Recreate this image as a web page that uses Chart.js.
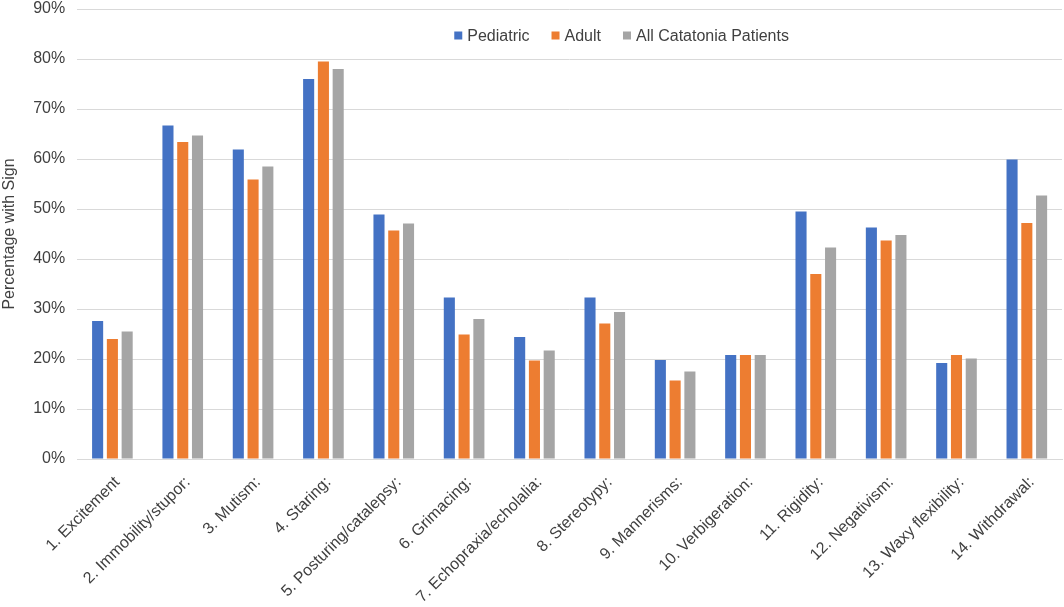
<!DOCTYPE html>
<html>
<head>
<meta charset="utf-8">
<script src="https://cdn.jsdelivr.net/npm/chart.js@4"></script>
<style>
  html, body { margin: 0; padding: 0; background: #fff; }
  #wrap { width: 1064px; height: 607px; position: relative; }
</style>
</head>
<body>
<div id="wrap"><canvas id="signChart"></canvas></div>
<script>
// Catatonia signs, percent of patients with each sign
const categories = [
    '1. Excitement', '2. Immobility/stupor:', '3. Mutism:', '4. Staring:',
    '5. Posturing/catalepsy:', '6. Grimacing:', '7. Echopraxia/echolalia:',
    '8. Stereotypy:', '9. Mannerisms:', '10. Verbigeration:', '11. Rigidity:',
    '12. Negativism:', '13. Waxy flexibility:', '14. Withdrawal:'
];
const pediatric = [27.6, 66.7, 61.9, 76.0, 48.9, 32.3, 24.4, 32.3, 19.8, 20.8, 49.5, 46.3, 19.2, 59.9];
const adult     = [24.0, 63.4, 55.9, 79.5, 45.7, 24.9, 19.7, 27.1, 15.7, 20.8, 37.0, 43.7, 20.8, 47.2];
const allPatients = [25.5, 64.7, 58.5, 78.0, 47.1, 28.0, 21.7, 29.4, 17.5, 20.8, 42.3, 44.8, 20.1, 52.7];
const yTicks = [0, 10, 20, 30, 40, 50, 60, 70, 80, 90];

const textColor = '#404040';
const fontFamily = '"Liberation Sans", Arial, sans-serif';

// legend sits inside the plot, between the 90% and 80% lines (like Excel)
const insideLegend = {
    id: 'insideLegend',
    afterDraw(chart) {
        const c = chart.ctx;
        const items = chart.data.datasets;
        const gap = 22, box = 8;
        c.save();
        c.font = '16px ' + fontFamily;
        c.textBaseline = 'middle';
        let total = 0;
        items.forEach((ds, i) => {
            total += box + 5 + c.measureText(ds.label).width + (i < items.length - 1 ? gap : 0);
        });
        const area = chart.chartArea;
        let x = (area.left + area.right) / 2 + 52 - total / 2;
        const y = chart.scales.y.getPixelForValue(84.7);
        items.forEach(ds => {
            c.fillStyle = ds.backgroundColor;
            c.fillRect(x, y - box / 2, box, box);
            x += box + 5;
            c.fillStyle = textColor;
            c.fillText(ds.label, x, y + 1);
            x += c.measureText(ds.label).width + gap;
        });
        c.restore();
    }
};

document.addEventListener('DOMContentLoaded', function() {
    const ctx = document.getElementById('signChart').getContext('2d');

    function series(label, data, color) {
        return {
            label: label,
            data: data,
            backgroundColor: color,
            borderWidth: 0,
            barPercentage: 0.75,
            categoryPercentage: 0.63
        };
    }

    new Chart(ctx, {
        type: 'bar',
        data: {
            labels: categories,
            datasets: [
                series('Pediatric', pediatric, '#4472C4'),
                series('Adult', adult, '#ED7D31'),
                series('All Catatonia Patients', allPatients, '#A5A5A5')
            ]
        },
        options: {
            responsive: true,
            maintainAspectRatio: false,
            animation: false,
            layout: { padding: { top: 0, right: 2, left: 0, bottom: 0 } },
            plugins: {
                legend: { display: false },
                tooltip: { enabled: false }
            },
            scales: {
                x: {
                    grid: { display: false },
                    border: { color: '#d9d9d9', width: 1 },
                    afterFit: function(axis) {
                        axis.height = 148;   // room for the slanted labels below the 0% line
                    },
                    ticks: {
                        color: textColor,
                        font: { family: fontFamily, size: 16 },
                        minRotation: 45,
                        maxRotation: 45,
                        autoSkip: false,
                        labelOffset: 5,
                        padding: 6
                    }
                },
                y: {
                    min: 0,
                    max: 90,
                    afterBuildTicks: function(axis) {
                        axis.ticks = yTicks.map(v => ({ value: v }));
                    },
                    afterFit: function(axis) {
                        axis.paddingTop = 9;   // 90% line sits close to the top edge
                    },
                    grid: { color: '#d9d9d9', drawTicks: false },
                    border: { display: false },
                    ticks: {
                        color: textColor,
                        font: { family: fontFamily, size: 16 },
                        padding: 12,
                        callback: v => v + '%'
                    },
                    title: {
                        display: true,
                        text: 'Percentage with Sign',
                        color: textColor,
                        font: { family: fontFamily, size: 16 },
                        padding: { top: 0, bottom: 2 }
                    }
                }
            }
        },
        plugins: [insideLegend]
    });
});
</script>
</body>
</html>
